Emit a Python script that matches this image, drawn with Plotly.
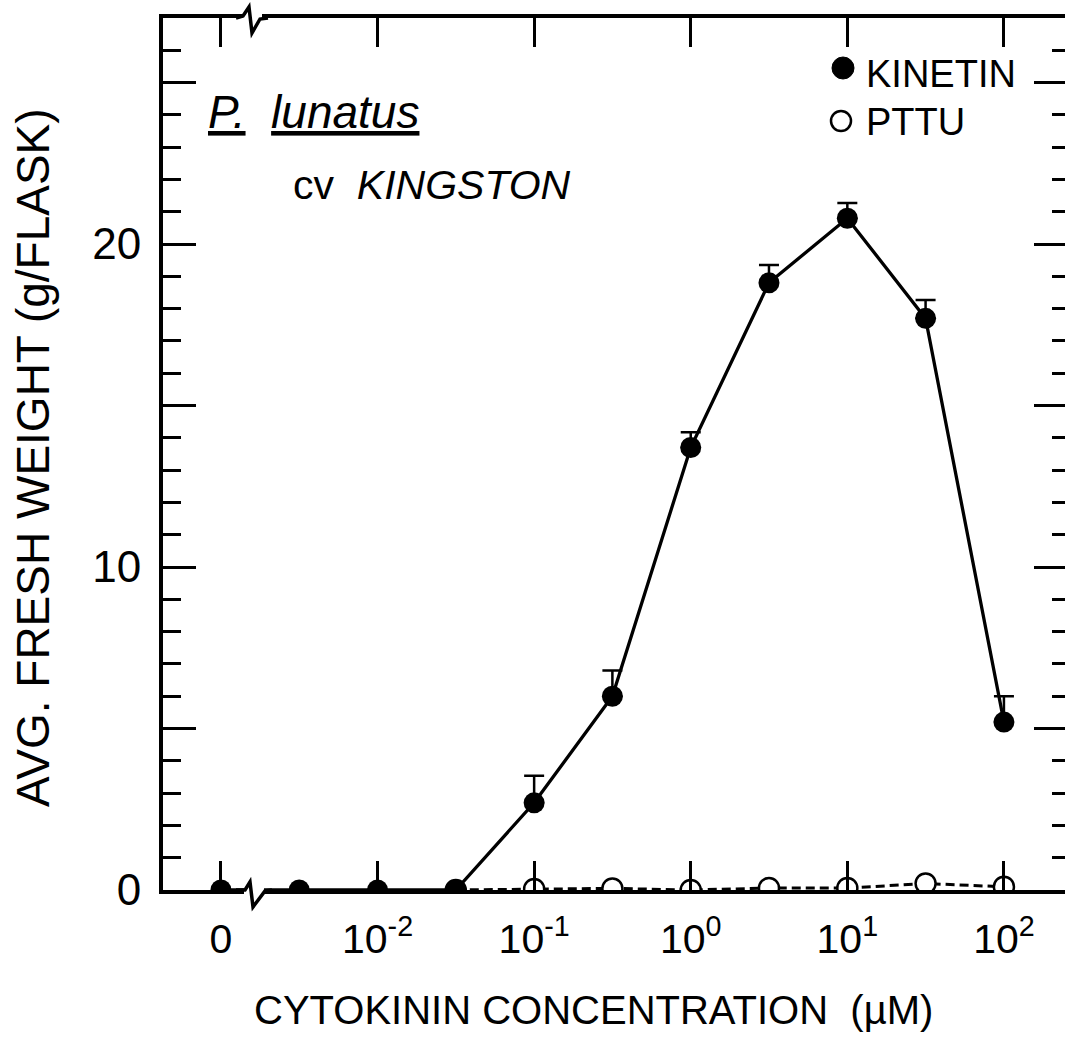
import plotly.graph_objects as go

# ---------------- data ----------------
concentration = [0, 0.00316, 0.01, 0.0316, 0.1, 0.316, 1, 3.16, 10, 31.6, 100]   # µM
kinetin = [0, 0, 0, 0, 2.7, 6.0, 13.7, 18.8, 20.8, 17.7, 5.2]
kinetin_err = [None, None, None, None, 0.84, 0.8, 0.47, 0.55, 0.47, 0.57, 0.8]
pttu_conc = [0.0316, 0.1, 0.316, 1, 3.16, 10, 31.6, 100]
pttu = [0, 0.03, 0.05, 0.0, 0.06, 0.06, 0.2, 0.1]

x_tick_vals = [0, 0.01, 0.1, 1, 10, 100]
x_tick_text = ["0", "10<sup>-2</sup>", "10<sup>-1</sup>", "10<sup>0</sup>",
               "10<sup>1</sup>", "10<sup>2</sup>"]
y_tick_vals = [0, 10, 20]
y_tick_text = ["0", "10", "20"]
y_long_ticks = [5, 15, 25]
y_right_long_ticks = [0, 5, 10, 15, 20, 25]

ZERO_AT = 0.001  # where "0" sits on the broken log axis


def brk(c):
    return c if c > 0 else ZERO_AT


kin_x = [brk(c) for c in concentration]
pttu_x = [brk(c) for c in pttu_conc]
tick_x = [brk(c) for c in x_tick_vals]

# ---------------- layout geometry ----------------
W, H = 1065, 1048
L, R, T, B = 163, 0, 18, 158
PW, PH = W - L - R, H - T - B


def px(xp):
    return (xp - L) / PW


def py(yp):
    return (H - B - yp) / PH


def path(points):
    s = ""
    for i, (a, b) in enumerate(points):
        s += ("M" if i == 0 else "L") + f"{px(a):.5f},{py(b):.5f} "
    return s


FONT = "Liberation Sans, Arial, sans-serif"
BLACK = "#000000"

fig = go.Figure()

fig.add_trace(go.Scatter(
    x=pttu_x, y=pttu, mode="lines+markers", name="PTTU",
    line=dict(color=BLACK, width=3, dash="9px,5px"),
    marker=dict(symbol="circle", size=20, color="white",
                line=dict(color=BLACK, width=2.5)),
    showlegend=False,
))

fig.add_trace(go.Scatter(
    x=kin_x, y=kinetin, mode="lines+markers", name="KINETIN",
    line=dict(color=BLACK, width=3.3),
    marker=dict(symbol="circle", size=21, color=BLACK),
    error_y=dict(type="data", symmetric=False, array=kinetin_err,
                 arrayminus=[0] * len(kinetin_err), color=BLACK,
                 thickness=2.5, width=10),
    showlegend=False,
))

# empty traces so the extra tick-only axes get drawn
for ax in ("y3", "y4"):
    fig.add_trace(go.Scatter(x=[None], y=[None], yaxis=ax, mode="markers",
                             showlegend=False, hoverinfo="skip"))

fig.update_layout(
    width=W, height=H,
    margin=dict(l=L, r=R, t=T, b=B, pad=0),
    paper_bgcolor="white", plot_bgcolor="white",
    font=dict(family=FONT, color=BLACK),
    xaxis=dict(
        type="log", range=[-3.37, 2.39],
        tickmode="array", tickvals=tick_x, ticktext=x_tick_text,
        ticks="inside", ticklen=29, tickwidth=3, tickcolor=BLACK,
        showline=True, linewidth=4, linecolor=BLACK, mirror="ticks",
        showgrid=False, zeroline=False,
        tickfont=dict(family=FONT, size=41, color=BLACK),
        ticklabelstandoff=10,
    ),
    yaxis=dict(
        range=[0, 27],
        tickmode="array", tickvals=y_tick_vals, ticktext=y_tick_text,
        ticks="inside", ticklen=33, tickwidth=3, tickcolor=BLACK,
        minor=dict(dtick=1, ticks="inside", ticklen=18, tickwidth=3,
                   tickcolor=BLACK, showgrid=False),
        showline=True, linewidth=4, linecolor=BLACK, mirror=False,
        showgrid=False, zeroline=False,
        tickfont=dict(family=FONT, size=44, color=BLACK),
        ticklabelstandoff=9,
    ),
    yaxis3=dict(
        overlaying="y", side="right", anchor="x",
        range=[0, 27],
        tickmode="array", tickvals=y_right_long_ticks, showticklabels=False,
        ticks="inside", ticklen=31, tickwidth=3, tickcolor=BLACK,
        minor=dict(dtick=1, ticks="inside", ticklen=13, tickwidth=3,
                   tickcolor=BLACK, showgrid=False),
        showline=False, showgrid=False, zeroline=False,
    ),
    yaxis4=dict(
        overlaying="y", side="left", anchor="x",
        range=[0, 27],
        tickmode="array", tickvals=y_long_ticks, showticklabels=False,
        ticks="inside", ticklen=33, tickwidth=3, tickcolor=BLACK,
        showline=False, showgrid=False, zeroline=False,
    ),
)

annotations = [
    dict(text="AVG. FRESH WEIGHT (g/FLASK)", x=px(33), y=py(458),
         textangle=-90, font=dict(size=46)),
    dict(text="CYTOKININ CONCENTRATION  (µM)", x=px(593), y=py(1010),
         font=dict(size=40)),
    dict(text="<i><u>P.</u>  <u>lunatus</u></i>", x=px(206), y=py(112),
         xanchor="left", font=dict(size=46)),
    dict(text="cv  <i>KINGSTON</i>", x=px(291), y=py(185),
         xanchor="left", font=dict(size=41)),
    dict(text="KINETIN", x=px(864), y=py(74), xanchor="left", font=dict(size=38)),
    dict(text="PTTU", x=px(864), y=py(122), xanchor="left", font=dict(size=38)),
]
for a in annotations:
    a.setdefault("xref", "paper")
    a.setdefault("yref", "paper")
    a.setdefault("showarrow", False)
    a.setdefault("xanchor", "center")
    a.setdefault("yanchor", "middle")
fig.update_layout(annotations=annotations)

shapes = [
    # legend symbols
    dict(type="circle", xref="paper", yref="paper", xsizemode="pixel", ysizemode="pixel",
         xanchor=px(843), yanchor=py(68), x0=-11, x1=11, y0=-11, y1=11,
         fillcolor=BLACK, line=dict(color=BLACK, width=1)),
    dict(type="circle", xref="paper", yref="paper", xsizemode="pixel", ysizemode="pixel",
         xanchor=px(841), yanchor=py(121), x0=-10, x1=10, y0=-10, y1=10,
         fillcolor="white", line=dict(color=BLACK, width=2.5)),
    # axis breaks: erase gap, then draw zigzag
    dict(type="path", xref="paper", yref="paper", path=path([(244, 890), (264, 890)]),
         line=dict(color="white", width=8)),
    dict(type="path", xref="paper", yref="paper",
         path=path([(236, 890), (245, 890), (250, 882), (253, 907), (265, 891), (272, 890)]),
         line=dict(color=BLACK, width=3.5)),
    dict(type="path", xref="paper", yref="paper", path=path([(243, 18), (262, 18)]),
         line=dict(color="white", width=8)),
    dict(type="path", xref="paper", yref="paper",
         path=path([(236, 18), (243, 16), (249, 7), (252, 33), (260, 19), (268, 18)]),
         line=dict(color=BLACK, width=3.5)),
]
fig.update_layout(shapes=shapes)

fig.write_html("out.html",
               config={"displayModeBar": False},
               post_script="document.body.style.margin='0px';"
                           "document.body.style.overflow='hidden';")
